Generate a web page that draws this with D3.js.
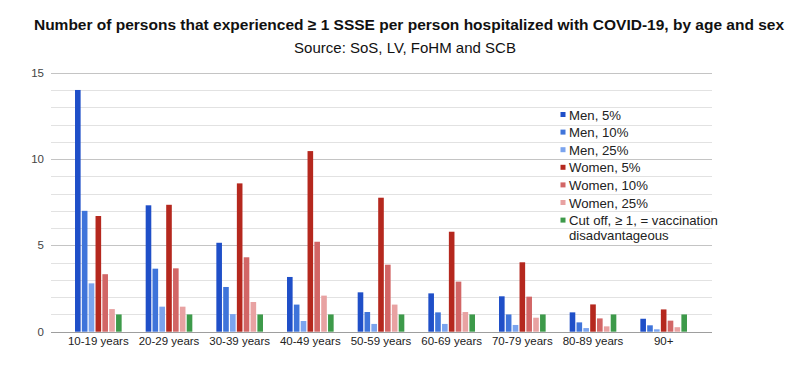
<!DOCTYPE html>
<html><head><meta charset="utf-8">
<script src="https://cdn.jsdelivr.net/npm/d3@7"></script>
<style>body{margin:0;background:#fff;}svg{display:block;font-family:"Liberation Sans",Arial,sans-serif;}</style>
</head><body><svg id="c" width="805" height="365"></svg>
<script>
const categories = ["10-19 years","20-29 years","30-39 years","40-49 years","50-59 years","60-69 years","70-79 years","80-89 years","90+"];
const seriesNames = ["Men, 5%","Men, 10%","Men, 25%","Women, 5%","Women, 10%","Women, 25%","Cut off, ≥ 1, = vaccination disadvantageous"];
const men5    = [14.0, 7.32, 5.15, 3.17, 2.28, 2.22, 2.05, 1.12, 0.75];
const men10   = [7.0, 3.65, 2.59, 1.57, 1.14, 1.12, 1.0, 0.54, 0.37];
const men25   = [2.8, 1.45, 1.02, 0.62, 0.45, 0.45, 0.39, 0.21, 0.14];
const women5  = [6.7, 7.35, 8.59, 10.46, 7.76, 5.79, 4.02, 1.58, 1.29];
const women10 = [3.33, 3.67, 4.31, 5.21, 3.88, 2.9, 2.03, 0.77, 0.64];
const women25 = [1.31, 1.45, 1.72, 2.09, 1.57, 1.14, 0.81, 0.31, 0.26];
const cutoff  = [1, 1, 1, 1, 1, 1, 1, 1, 1];
const yTicks = [0, 5, 10, 15];
const colors = ["#1f4fc8","#3f74da","#7ba4ee","#b5281e","#d26666","#e8a2a2","#3d9a4a"];

const seriesValues = [men5, men10, men25, women5, women10, women25, cutoff];
const svg = d3.select("#c");

svg.append("text").attr("x", 409).attr("y", 30).attr("text-anchor","middle")
  .attr("font-size", 15.5).attr("font-weight","bold").attr("fill","#111")
  .text("Number of persons that experienced ≥ 1 SSSE per person hospitalized with COVID-19, by age and sex");
svg.append("text").attr("x", 405).attr("y", 53).attr("text-anchor","middle")
  .attr("font-size", 15).attr("fill","#111")
  .text("Source: SoS, LV, FoHM and SCB");

const y = d3.scaleLinear().domain([0, 15]).range([331.7, 72.7]);
const gridL = 51, gridR = 712;
const minor = d3.range(0, 16);
svg.append("g").selectAll("line").data(minor).join("line")
  .attr("x1", gridL).attr("x2", gridR)
  .attr("y1", d => Math.round(y(d)) + 0.5).attr("y2", d => Math.round(y(d)) + 0.5)
  .attr("stroke", d => d === 0 ? "#9e9e9e" : (d % 5 === 0 ? "#c4c4c4" : "#e2e2e2"))
  .attr("stroke-width", 1);

svg.append("g").selectAll("text").data(yTicks).join("text")
  .attr("x", 44).attr("y", d => y(d) + 4).attr("text-anchor","end")
  .attr("font-size", 11.5).attr("fill","#444").text(d => d);

const x0 = d3.scaleBand().domain(categories).range([63, 699]).paddingInner(0.34).paddingOuter(0.17);
const x1 = d3.scaleBand().domain(d3.range(seriesNames.length)).range([0, x0.bandwidth()]).paddingInner(0.18);

const g = svg.append("g");
seriesValues.forEach((vals, si) => {
  g.append("g").selectAll("rect").data(vals).join("rect")
    .attr("x", (d, i) => x0(categories[i]) + x1(si))
    .attr("width", x1.bandwidth())
    .attr("y", d => y(d))
    .attr("height", d => y(0) - y(d))
    .attr("fill", colors[si]);
});

svg.append("g").selectAll("text").data(categories).join("text")
  .attr("x", d => x0(d) + x0.bandwidth() / 2).attr("y", 345)
  .attr("text-anchor","middle").attr("font-size", 11.5).attr("fill","#222").text(d => d);

// legend
const lg = svg.append("g");
const ly0 = 115, lstep = 17.6;
seriesNames.forEach((name, i) => {
  const yy = ly0 + i * lstep;
  lg.append("rect").attr("x", 560.5).attr("y", yy - 3).attr("width", 5).attr("height", 5).attr("fill", colors[i]);
  if (i === 6) {
    lg.append("text").attr("x", 569).attr("y", yy + 4.5).attr("font-size", 13.2).attr("fill","#222").text("Cut off, ≥ 1, = vaccination");
    lg.append("text").attr("x", 569).attr("y", yy + 4.5 + 14.5).attr("font-size", 13.2).attr("fill","#222").text("disadvantageous");
  } else {
    lg.append("text").attr("x", 569).attr("y", yy + 4.5).attr("font-size", 13.2).attr("fill","#222").text(name);
  }
});
</script></body></html>
